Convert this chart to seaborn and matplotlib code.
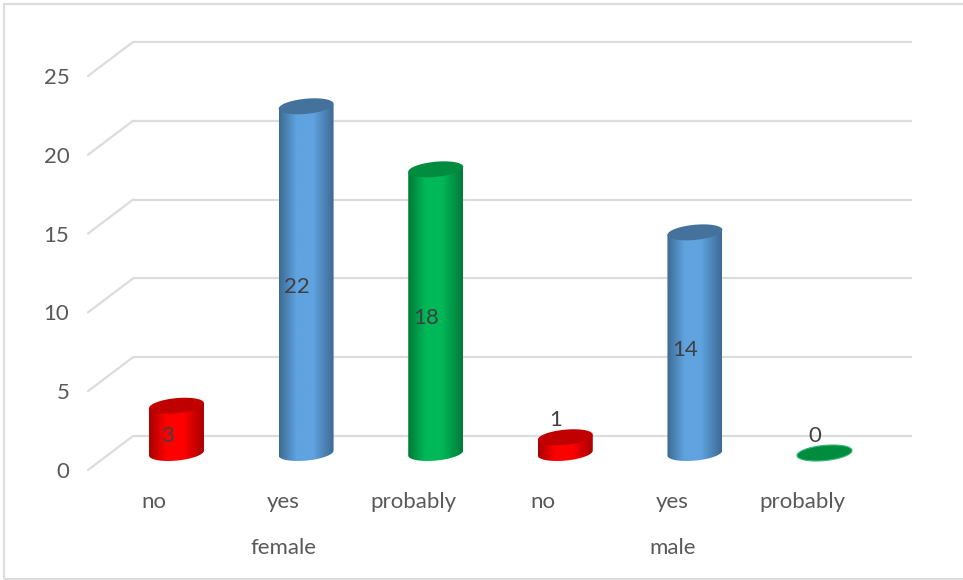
import numpy as np
import pandas as pd
import matplotlib
matplotlib.use("Agg")
import matplotlib.pyplot as plt
from matplotlib.colors import LinearSegmentedColormap
from matplotlib.patches import PathPatch, Rectangle
from matplotlib.path import Path
from matplotlib.transforms import ScaledTranslation
import seaborn as sns

genders = ["female", "female", "female", "male", "male", "male"]
answers = ["no", "yes", "probably", "no", "yes", "probably"]
counts = [3, 22, 18, 1, 14, 0]
y_ticks = [0, 5, 10, 15, 20, 25]

body_colors = {"no": "#ff0000", "yes": "#5fa3e0", "probably": "#00b858"}
edge_colors = {"no": "#a80000", "yes": "#3d6a93", "probably": "#007a38"}
cap_colors = {"no": "#c00000", "yes": "#44729d", "probably": "#008c3f"}

W, H = 963, 580
GRID = "#dcdcdc"
TEXT = "#595959"
FONT_SIZE = 16

sns.set_theme(style="white")
plt.rcParams["font.family"] = ["Lato", "DejaVu Sans"]

fig = plt.figure(figsize=(W / 100, H / 100), dpi=100, facecolor="white")

# The axes is the front plane of the 3-D box; floor and back wall are offsets from it.
left, right, floor, top = 88, 867, 470, 76
ax = fig.add_axes([left / W, 1 - floor / H, (right - left) / W, (floor - top) / H])

frame = pd.DataFrame({"slot": range(len(counts)), "answer": answers, "count": counts})
sns.barplot(data=frame, x="slot", y="count", hue="answer", palette=body_colors,
            dodge=False, width=0.424, legend=False, ax=ax)

slot_px = 129.6
xlim = ((left - 154) / slot_px, (right - 154) / slot_px)
ax.set_xlim(*xlim)
ax.set_ylim(0, 25)
px_per_unit = (floor - top) / 25


def shifted(dx_px, dy_px):
    return ax.transData + ScaledTranslation(dx_px / 100, dy_px / 100, fig.dpi_scale_trans)


# Back wall and the diagonal side rules
back = shifted(45, 34)
for v in y_ticks:
    ax.plot(xlim, [v, v], color=GRID, lw=1.6, transform=back, clip_on=False,
            zorder=1, solid_capstyle="butt")
    ax.annotate("", xy=(left + 45, H - floor + 34 + v * px_per_unit),
                xytext=(left, H - floor + v * px_per_unit), xycoords="figure pixels",
                textcoords="figure pixels",
                arrowprops=dict(arrowstyle="-", color=GRID, lw=1.6, shrinkA=0, shrinkB=0),
                zorder=1)

# Cylinders: each seaborn bar is replaced by a shaded column with elliptical caps
mid = shifted(22.5, 17)
half_h = 7.6 / px_per_unit
rise = 0.09 * slot_px / px_per_unit  # data-y gained per data-x across the tilted cap
theta = np.linspace(0, 2 * np.pi, 90)
bars = sorted(ax.patches, key=lambda p: p.get_x())
for bar, answer, value in zip(bars, answers, counts):
    bar.set_visible(False)
    cx = bar.get_x() + bar.get_width() / 2
    half_w = bar.get_width() / 2
    ex = half_w * np.cos(theta)
    ey = half_h * np.sin(theta) + rise * ex
    lower = theta >= np.pi
    verts = np.r_[np.c_[cx + ex[lower], ey[lower]],
                  [[cx + half_w, value + rise * half_w]],
                  [[cx - half_w, value - rise * half_w]]]
    outline = Path(np.r_[verts, [verts[0]]], closed=True)
    if value > 0:
        clip = PathPatch(outline, transform=mid, fc="none", ec="none")
        ax.add_patch(clip)
        cmap = LinearSegmentedColormap.from_list(
            answer, [(0, edge_colors[answer]), (0.32, body_colors[answer]),
                     (0.62, body_colors[answer]), (1, edge_colors[answer])])
        img = ax.imshow(np.linspace(0, 1, 256)[None, :], cmap=cmap, aspect="auto",
                        extent=(cx - half_w, cx + half_w, -half_h * 1.5, value + half_h),
                        transform=mid, zorder=3, interpolation="bilinear")
        img.set_clip_path(clip)
    cap = Path(np.c_[cx + ex, value + ey], closed=False)
    ax.add_patch(PathPatch(cap, transform=mid, fc=cap_colors[answer],
                           ec="#33b873" if value == 0 else "none",
                           lw=0.8, zorder=4))

ax.set_xlim(*xlim)
ax.set_ylim(0, 25)

# Value labels sit inside tall cylinders and above the very short ones
for slot, value in enumerate(counts):
    above = value < 2
    ax.annotate(str(value), xy=(slot, value if above else value / 2),
                xytext=(13, 34 if above else 10), textcoords="offset pixels",
                ha="center", va="center", color="#404040", fontsize=FONT_SIZE,
                zorder=6, annotation_clip=False)

ax.set_yticks(y_ticks)
ax.set_xticks(range(len(answers)))
ax.set_xticklabels(answers)
ax.set_xlabel("")
ax.set_ylabel("")
ax.tick_params(axis="y", length=0, pad=13.5, labelsize=FONT_SIZE, labelcolor=TEXT)
ax.tick_params(axis="x", length=0, pad=16, labelsize=FONT_SIZE, labelcolor=TEXT)
sns.despine(ax=ax, left=True, bottom=True, top=True, right=True)
ax.patch.set_alpha(0)

# Second tier of category labels, centred under each group
for gender in dict.fromkeys(genders):
    slots = [i for i, g in enumerate(genders) if g == gender]
    ax.annotate(gender, xy=(np.mean(slots), 0), xytext=(0, -78), textcoords="offset pixels",
                ha="center", va="center", color=TEXT, fontsize=FONT_SIZE, annotation_clip=False)

# Chart frame: left, top and bottom edges show, the right edge runs off the image
fig.add_artist(Rectangle((4 / W, 1 / H), W / W, (H - 5) / H, transform=fig.transFigure,
                         fc="none", ec=GRID, lw=1.5))

fig.savefig("out.png", dpi=100, facecolor="white")
